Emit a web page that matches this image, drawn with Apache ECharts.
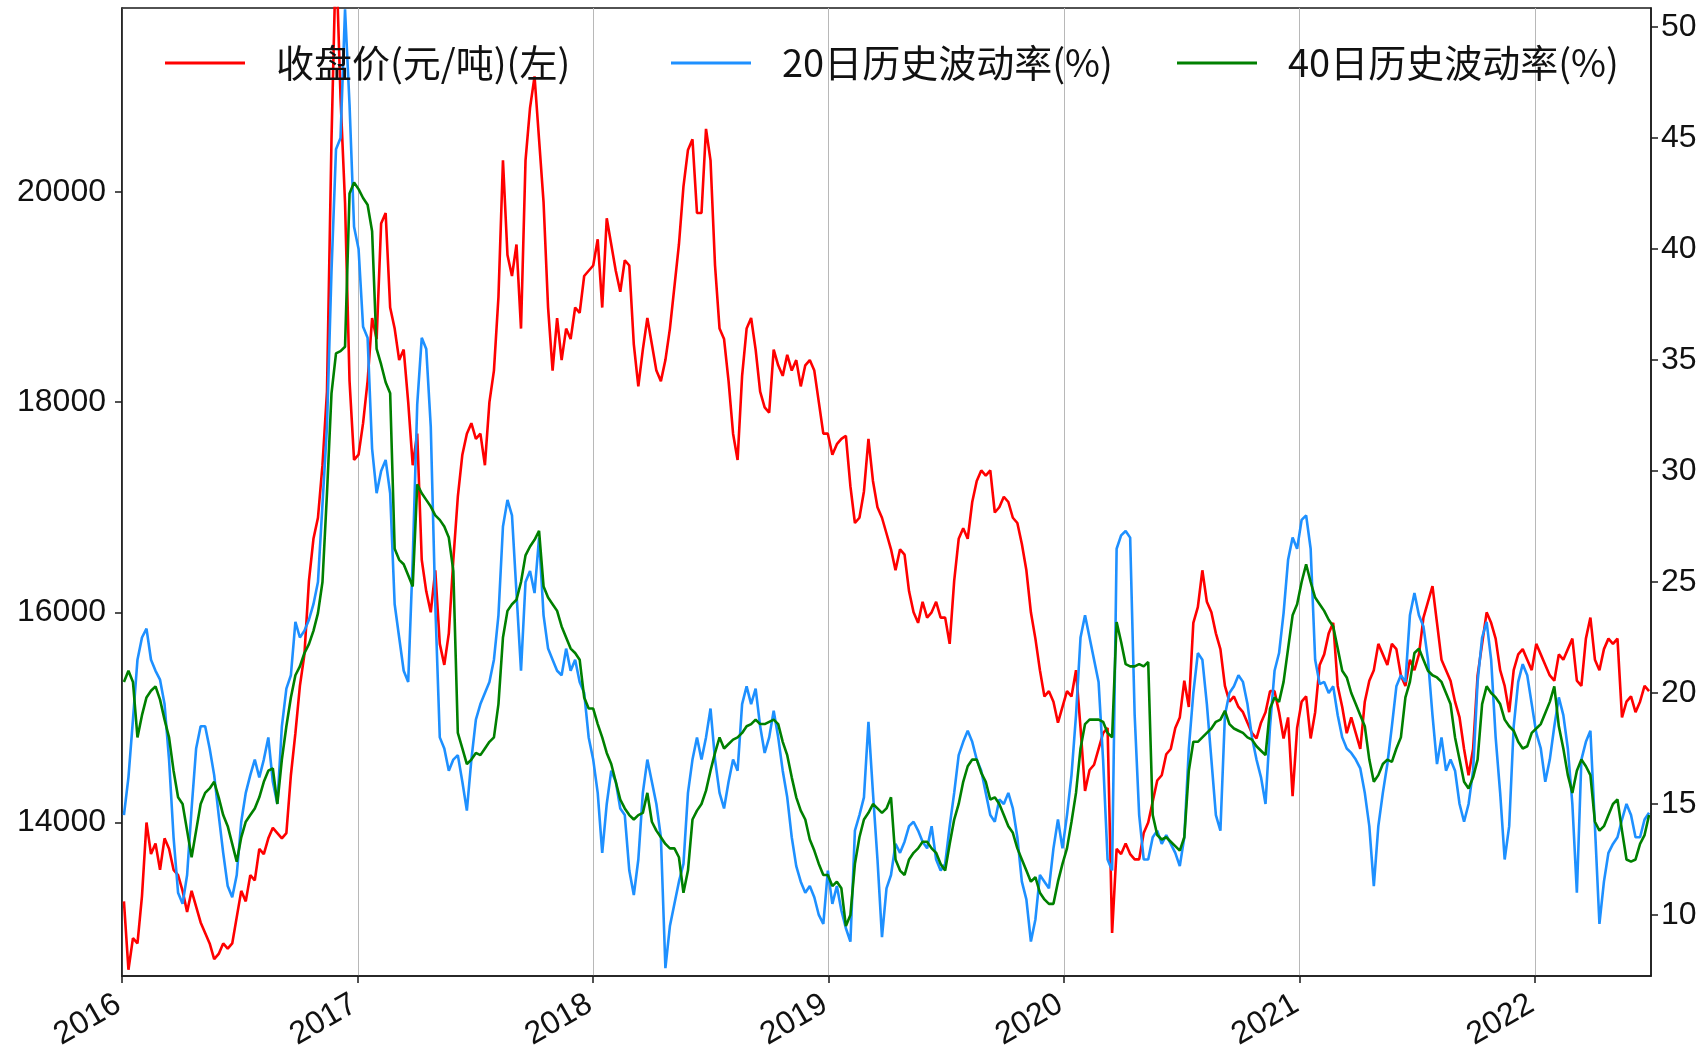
<!DOCTYPE html>
<html><head><meta charset="utf-8">
<script src="https://cdn.jsdelivr.net/npm/echarts@6/dist/echarts.min.js"></script>
<style>html,body{margin:0;padding:0;background:#fff}#c{width:1706px;height:1055px}</style>
</head><body><div id="c"></div>
<script>
// ---- data (weekly samples, Monday of each week) ----
const seriesNames = ['收盘价(元/吨)(左)', '20日历史波动率(%)', '40日历史波动率(%)'];
const firstWeek = [2016, 0, 4];
const weekDays = 7;
const yearTicks = [2016, 2017, 2018, 2019, 2020, 2021, 2022];
const leftTicks = [14000, 16000, 18000, 20000];
const rightTicks = [10, 15, 20, 25, 30, 35, 40, 45, 50];

const price2016 = [13250,12600,12900,12850,13300,14000,13700,13800,13550,13850,13750,13550,13500,13350,13150,13350,13200,13050,12950,12850,12700,12750,12850,12800,12850,13100,13350,13250,13500,13450,13750,13700,13850,13950,13900,13850,13900,14450,14850,15300,15600,16300,16700,16900,17400,18100,20500,22300,20900,19900,18200,17450];
const price2017 = [17500,17800,18200,18800,18600,19700,19800,18900,18700,18400,18500,18000,17400,17700,16500,16200,16000,16400,15700,15500,15800,16500,17100,17500,17700,17800,17650,17700,17400,18000,18300,19000,20300,19400,19200,19500,18700,20300,20800,21100,20500,19900,18900,18300,18800,18400,18700,18600,18900,18850,19200,19250];
const price2018 = [19300,19550,18900,19750,19500,19250,19050,19350,19300,18550,18150,18500,18800,18550,18300,18200,18400,18700,19100,19500,20050,20400,20500,19800,19800,20600,20300,19300,18700,18600,18200,17700,17450,18250,18700,18800,18500,18100,17950,17900,18500,18350,18250,18450,18300,18400,18150,18350,18400,18300,18000,17700];
const price2019 = [17700,17500,17600,17650,17680,17200,16850,16900,17150,17650,17250,17000,16900,16750,16600,16400,16600,16550,16200,16000,15900,16100,15950,16000,16100,15950,15950,15700,16300,16700,16800,16700,17050,17250,17350,17300,17350,16950,17000,17100,17050,16900,16850,16650,16400,16000,15750,15450,15200,15250,15150,14950];
const price2020 = [15100,15250,15200,15450,14900,14300,14500,14550,14700,14850,14900,12950,13750,13700,13800,13700,13650,13650,13900,14000,14200,14400,14450,14650,14700,14900,15000,15350,15100,15900,16050,16400,16100,16000,15800,15650,15300,15150,15200,15100,15050,14950,14850,14800,14950,15050,15250,15250,15050,14800,15000,14250];
const price2021 = [14900,15150,15200,14800,15050,15500,15600,15800,15900,15300,15100,14850,15000,14850,14700,15150,15350,15450,15700,15600,15500,15700,15650,15400,15300,15550,15450,15600,15950,16100,16250,15900,15550,15450,15350,15150,15000,14700,14450,14700,15400,15700,16000,15900,15750,15450,15300,15050,15450,15600,15650,15550];
const price2022 = [15450,15700,15600,15500,15400,15350,15600,15550,15650,15750,15350,15300,15750,15950,15550,15450,15650,15750,15700,15750,15000,15150,15200,15050,15150,15300,15250];

const vol20_2016 = [14.5,16.2,18.8,21.5,22.5,22.9,21.5,21.0,20.6,19.5,17.0,13.5,11.0,10.5,11.8,14.8,17.5,18.5,18.5,17.5,16.3,14.5,12.8,11.3,10.8,11.8,14.2,15.5,16.3,17.0,16.2,17.0,18.0,16.0,15.0,18.5,20.2,20.8,23.2,22.5,22.8,23.3,24.0,25.0,28.5,32.0,39.0,44.5,45.0,50.8,46.5,41.0];
const vol20_2017 = [40.0,36.5,36.0,31.0,29.0,30.0,30.5,29.0,24.0,22.5,21.0,20.5,26.0,33.0,36.0,35.5,32.0,24.0,18.0,17.5,16.5,17.0,17.2,16.0,14.7,17.0,18.8,19.5,20.0,20.5,21.5,23.5,27.5,28.7,28.0,24.5,21.0,25.0,25.5,24.5,27.0,23.5,22.0,21.5,21.0,20.8,22.0,21.0,21.5,20.5,20.0,18.0];
const vol20_2018 = [17.0,15.5,12.8,15.0,16.5,16.0,14.8,14.5,12.0,10.9,12.5,15.5,17.0,16.0,15.0,13.5,7.6,9.5,10.5,11.5,12.3,15.5,17.0,18.0,17.0,18.0,19.3,17.0,15.5,14.8,16.0,17.0,16.5,19.5,20.3,19.5,20.2,18.5,17.3,18.0,19.2,18.0,16.5,15.3,13.5,12.2,11.5,11.0,11.3,10.8,10.0,9.6];
const vol20_2019 = [12.0,10.5,11.3,10.2,9.4,8.8,13.8,14.5,15.3,18.7,15.5,12.5,9.0,11.2,11.8,13.2,12.8,13.3,14.0,14.2,13.8,13.3,13.0,14.0,12.5,12.0,12.3,14.0,15.5,17.2,17.8,18.3,17.8,17.0,16.5,15.5,14.5,14.2,15.2,15.0,15.5,14.8,13.5,11.5,10.7,8.8,9.8,11.8,11.5,11.2,13.0,14.3];
const vol20_2020 = [13.0,14.5,16.3,19.0,22.5,23.5,22.5,21.5,20.5,17.0,12.5,12.0,26.5,27.1,27.3,27.0,19.0,14.5,12.5,12.5,13.5,13.8,13.2,13.6,13.2,12.8,12.2,13.5,17.5,20.0,21.8,21.5,19.5,17.0,14.5,13.8,19.0,20.0,20.3,20.8,20.5,19.5,18.0,17.0,16.2,15.0,18.5,21.0,21.8,23.6,26.0,27.0];
const vol20_2021 = [26.5,27.8,28.0,26.5,21.5,20.4,20.5,20.0,20.3,19.0,18.0,17.5,17.3,17.0,16.6,15.5,14.0,11.3,14.0,15.5,16.8,18.5,20.3,20.8,20.5,23.5,24.5,23.5,23.0,21.5,19.0,16.8,18.0,16.5,17.0,16.5,15.0,14.2,15.0,16.5,20.5,22.5,23.2,21.5,18.0,15.5,12.5,14.0,18.5,20.5,21.3,20.8];
const vol20_2022 = [19.5,18.2,17.5,16.0,17.0,18.5,19.8,19.0,17.5,15.0,11.0,17.0,17.8,18.3,14.0,9.6,11.5,12.8,13.2,13.5,14.3,15.0,14.5,13.5,13.5,14.3,14.6];

const vol40_2016 = [20.5,21.0,20.5,18.0,19.0,19.8,20.1,20.3,19.7,18.8,18.0,16.5,15.3,15.0,13.8,12.6,13.8,15.0,15.5,15.7,16.0,15.3,14.5,14.0,13.2,12.4,13.5,14.2,14.5,14.8,15.3,16.0,16.5,16.6,15.0,17.0,18.5,19.8,20.8,21.2,21.8,22.2,22.8,23.6,25.0,29.0,33.5,35.3,35.4,35.6,42.5,43.0];
const vol40_2017 = [42.7,42.3,42.0,40.8,35.5,34.8,34.0,33.5,26.5,26.0,25.8,25.3,24.8,29.4,29.0,28.7,28.4,28.0,27.8,27.5,27.0,25.5,18.2,17.5,16.8,17.0,17.3,17.2,17.5,17.8,18.0,19.5,22.5,23.7,24.0,24.2,25.0,26.2,26.6,26.9,27.3,24.8,24.3,24.0,23.7,23.0,22.5,22.0,21.8,21.5,19.8,19.3];
const vol40_2018 = [19.3,18.6,18.0,17.3,16.8,16.0,15.2,14.8,14.5,14.3,14.5,14.6,15.5,14.2,13.8,13.5,13.2,13.0,13.0,12.6,11.0,12.0,14.3,14.7,15.0,15.6,16.5,17.3,18.0,17.5,17.7,17.9,18.0,18.2,18.5,18.6,18.8,18.6,18.6,18.7,18.8,18.6,17.8,17.2,16.2,15.3,14.7,14.3,13.4,12.9,12.3,11.8];
const vol40_2019 = [11.8,11.3,11.5,11.2,9.5,10.0,12.3,13.5,14.3,14.6,15.0,14.8,14.6,14.8,15.3,12.5,12.0,11.8,12.5,12.8,13.0,13.3,13.3,13.0,12.8,12.3,12.0,13.2,14.3,15.0,16.0,16.7,17.0,17.0,16.4,16.0,15.2,15.3,15.0,14.5,14.0,13.7,13.0,12.5,12.0,11.5,11.7,11.0,10.7,10.5,10.5,11.5];
const vol40_2020 = [12.3,13.0,14.2,15.5,17.5,18.6,18.8,18.8,18.8,18.7,18.2,18.0,23.2,22.3,21.3,21.2,21.2,21.3,21.2,21.4,14.5,13.6,13.4,13.5,13.3,13.1,12.9,13.5,16.5,17.8,17.8,18.0,18.2,18.4,18.7,18.8,19.2,18.6,18.4,18.3,18.2,18.0,17.9,17.6,17.4,17.2,19.3,19.8,19.6,20.5,22.0,23.5];
const vol40_2021 = [24.0,25.0,25.8,25.0,24.3,24.0,23.7,23.3,23.0,22.0,21.0,20.7,20.0,19.5,19.0,18.5,17.0,16.0,16.3,16.8,17.0,16.9,17.5,18.0,19.8,20.5,21.8,22.0,21.5,21.0,20.8,20.7,20.5,20.0,19.5,18.0,17.0,16.0,15.7,16.2,17.0,19.5,20.3,20.0,19.8,19.5,18.8,18.5,18.3,17.8,17.5,17.6];
const vol40_2022 = [18.2,18.4,18.6,19.1,19.6,20.3,18.5,17.5,16.3,15.5,16.5,17.0,16.7,16.3,14.2,13.8,14.0,14.5,15.0,15.2,13.8,12.5,12.4,12.5,13.2,13.6,14.5];

// ---- assemble ----
const price = [].concat(price2016, price2017, price2018, price2019, price2020, price2021, price2022);
const vol20 = [].concat(vol20_2016, vol20_2017, vol20_2018, vol20_2019, vol20_2020, vol20_2021, vol20_2022);
const vol40 = [].concat(vol40_2016, vol40_2017, vol40_2018, vol40_2019, vol40_2020, vol40_2021, vol40_2022);
const dates = price.map((_, i) => new Date(firstWeek[0], firstWeek[1], firstWeek[2] + weekDays * i).getTime());
const pairs = arr => arr.map((v, i) => [dates[i], v]);
const yearTs = yearTicks.map(y => new Date(y, 0, 1).getTime());

const AX = '#1a1a1a';
const tickFont = { fontFamily: 'Liberation Sans, Arial, sans-serif', fontSize: 32, color: '#111' };
const legendBase = {
  top: 44, padding: 0, icon: 'rect', itemWidth: 80, itemHeight: 3, selectedMode: false,
  textStyle: { fontFamily: 'Noto Sans CJK SC', fontSize: 38, color: '#111', padding: [0, 0, 0, 26] }
};
const legendLefts = [165, 671, 1177];

const chart = echarts.init(document.getElementById('c'), null, { renderer: 'canvas' });
chart.setOption({
  animation: false,
  backgroundColor: '#fff',
  grid: { left: 122, right: 55, top: 8, bottom: 79, show: true, borderColor: AX, borderWidth: 1.5, backgroundColor: 'transparent' },
  legend: seriesNames.map((n, i) => Object.assign({ data: [n], left: legendLefts[i] }, legendBase)),
  xAxis: {
    type: 'value',
    min: new Date(2016, 0, 1).getTime(),
    max: new Date(2022, 5, 30).getTime(),
    axisLine: { show: true, onZero: false, lineStyle: { color: AX, width: 1.5 } },
    axisTick: { show: true, customValues: yearTs, length: 7, lineStyle: { color: AX, width: 1.5 } },
    axisLabel: Object.assign({ customValues: yearTs, rotate: 30, margin: 24, padding: [0, 4, 0, 0],
      showMinLabel: true, showMaxLabel: true,
      formatter: v => String(new Date(v).getFullYear()) }, tickFont),
    splitLine: { show: true, lineStyle: { color: '#b8b8b8', width: 1 } }
  },
  yAxis: [
    {
      type: 'value', position: 'left', min: 12540, max: 21750,
      axisLine: { show: true, onZero: false, lineStyle: { color: AX, width: 1.5 } },
      axisTick: { show: true, customValues: leftTicks, length: 7, lineStyle: { color: AX, width: 1.5 } },
      axisLabel: Object.assign({ customValues: leftTicks, margin: 16, formatter: v => String(v) }, tickFont),
      splitLine: { show: false }
    },
    {
      type: 'value', position: 'right', min: 7.25, max: 50.86,
      axisLine: { show: true, onZero: false, lineStyle: { color: AX, width: 1.5 } },
      axisTick: { show: true, customValues: rightTicks, length: 7, lineStyle: { color: AX, width: 1.5 } },
      axisLabel: Object.assign({ customValues: rightTicks, margin: 10, formatter: v => String(v) }, tickFont),
      splitLine: { show: false }
    }
  ],
  series: [
    { name: seriesNames[0], type: 'line', yAxisIndex: 0, data: pairs(price), symbol: 'none', showSymbol: false, z: 2,
      lineStyle: { color: '#ff0000', width: 2.6 }, itemStyle: { color: '#ff0000' } },
    { name: seriesNames[1], type: 'line', yAxisIndex: 1, data: pairs(vol20), symbol: 'none', showSymbol: false, z: 3,
      lineStyle: { color: '#1e90ff', width: 2.6 }, itemStyle: { color: '#1e90ff' } },
    { name: seriesNames[2], type: 'line', yAxisIndex: 1, data: pairs(vol40), symbol: 'none', showSymbol: false, z: 4,
      lineStyle: { color: '#008000', width: 2.6 }, itemStyle: { color: '#008000' } }
  ]
});
</script>
</body></html>
